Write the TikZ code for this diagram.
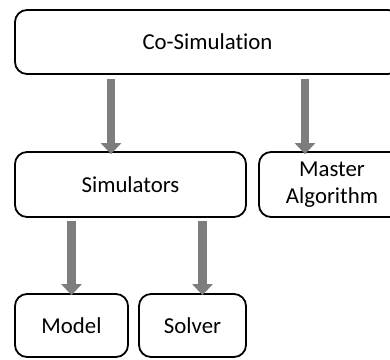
\documentclass[tikz,border=0pt]{standalone}
\usepackage{fontspec}
\setmainfont{Carlito}[Ligatures=NoCommon]
\usetikzlibrary{arrows.meta}
\tikzset{
  box/.style={draw=black, line width=1.8pt, rounded corners=12pt, fill=white,
    inner sep=0pt, align=center, font=\fontsize{22.8}{27}\selectfont},
  arr/.style={draw=gray!98!black, line width=8.5pt,
    -{Triangle[width=20pt,length=11pt]}}
}
\begin{document}
\begin{tikzpicture}[x=1pt,y=-1pt]
  \useasboundingbox (0,0) rectangle (390,359);
  % boxes
  \node[box, minimum width=385pt, minimum height=64pt] (cosim) at (207.5,42) {Co-Simulation};
  \node[box, minimum width=231pt, minimum height=65pt] (sim) at (130.5,184.5) {Simulators};
  \node[box, minimum width=146pt, minimum height=65pt] (master) at (332,184.5)
    {\raisebox{-2pt}{\begin{tabular}{@{}c@{}}Master\\Algorithm\end{tabular}}};
  \node[box, minimum width=113pt, minimum height=63pt] (model) at (71.5,325.5) {Model};
  \node[box, minimum width=107pt, minimum height=63pt] (solver) at (192.5,325.5) {Solver};
  % arrow end points just above the target boxes
  \coordinate (simin) at ([xshift=-19.5pt,yshift=-3pt]sim.north);
  \coordinate (masterin) at ([xshift=-27pt,yshift=-3pt]master.north);
  \coordinate (modelin) at ([yshift=-2pt]model.north);
  \coordinate (solverin) at ([xshift=10pt,yshift=-2pt]solver.north);
  % connectors
  \draw[arr] ([yshift=-4pt]cosim.south -| simin) -- (simin);
  \draw[arr] ([yshift=-4pt]cosim.south -| masterin) -- (masterin);
  \draw[arr] ([yshift=-3pt]sim.south -| modelin) -- (modelin);
  \draw[arr] ([yshift=-3pt]sim.south -| solverin) -- (solverin);
\end{tikzpicture}
\end{document}
